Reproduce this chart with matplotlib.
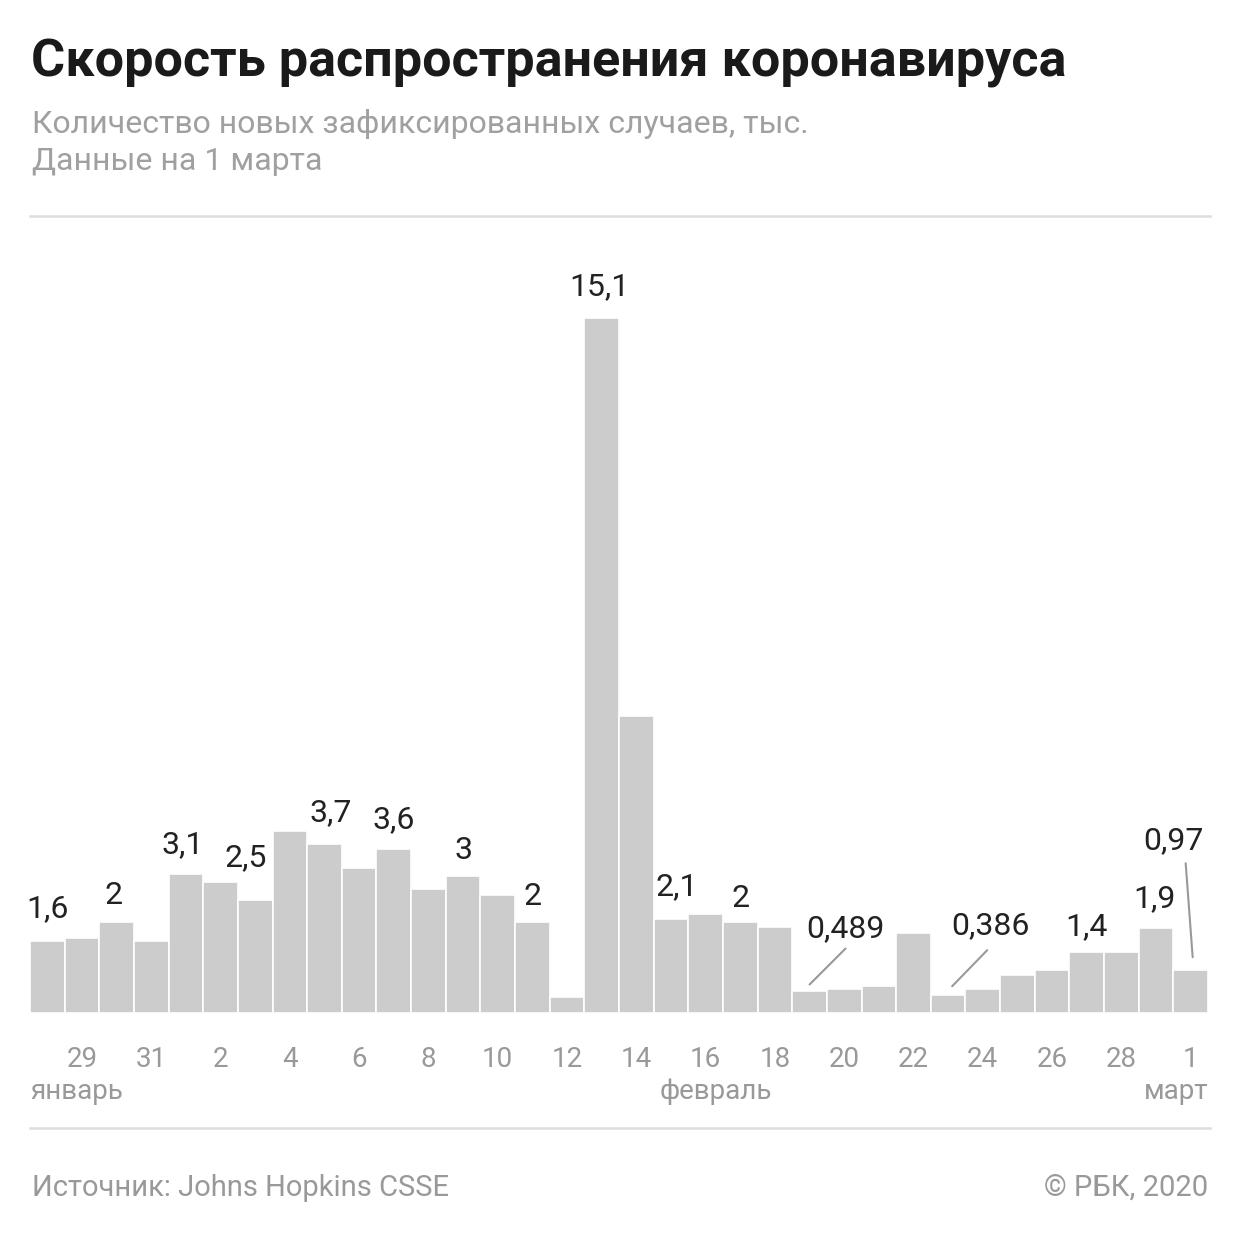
import pandas as pd
import matplotlib
matplotlib.use("Agg")
import matplotlib.pyplot as plt
from matplotlib.transforms import offset_copy

plt.rcParams['font.family'] = ['Roboto', 'DejaVu Sans']

# новые случаи по дням, тыс. (28 января - 1 марта 2020)
days = pd.date_range("2020-01-28", "2020-03-01", freq="D")
new_cases = [1.57, 1.64, 1.98, 1.57, 3.03, 2.85, 2.46, 3.96, 3.67, 3.15,
             3.56, 2.69, 2.98, 2.57, 1.98, 0.35, 15.1, 6.46, 2.04, 2.16,
             1.98, 1.87, 0.489, 0.53, 0.59, 1.75, 0.386, 0.53, 0.82, 0.93,
             1.33, 1.33, 1.85, 0.93]

# подписи значений: индекс столбца -> текст
label_idx = [0, 2, 4, 6, 8, 10, 12, 14, 16, 18, 20, 22, 26, 30, 32, 33]
label_txt = ['1,6', '2', '3,1', '2,5', '3,7', '3,6', '3', '2', '15,1',
             '2,1', '2', '0,489', '0,386', '1,4', '1,9', '0,97']
months = ['январь', 'февраль', 'март']

# смещения подписей в пикселях (dx, dy) от верха столбца
label_off = [(0, 24), (-3, 18), (-3, 20), (-10, 34), (6, 23), (0, 21), (0, 17),
             (0, 17), (-2, 23), (6, 24), (0, 15), (36, 53), (42, 61), (0, 17),
             (-2, 21), (-17, 121)]
# выноски: индекс -> (нижний конец), (верхний конец)
leaders = {22: ((0, 6), (36, 42)), 26: ((4, 9), (39, 45)), 33: ((2, 13), (-5, 107))}

W = H = 1240
fig = plt.figure(figsize=(12.4, 12.4), dpi=100, facecolor='white')
ax = fig.add_axes([30 / W, 227 / H, 1178 / W, 795 / H])
ax.set_xlim(-0.5, len(new_cases) - 0.5)
ax.set_ylim(0, 795 / 46.0)
for s in ax.spines.values():
    s.set_visible(False)
ax.set_yticks([])

x = list(range(len(new_cases)))
ax.bar(x, new_cases, width=1.0, color='#cccccc', edgecolor='white', linewidth=1.2)

# тики: каждый второй день, начиная с 29 января
tick_pos = x[1::2]
ax.set_xticks(tick_pos)
ax.set_xticklabels([str(days[i].day) for i in tick_pos], fontsize=20, color='#999999')
ax.tick_params(axis='x', length=0, pad=24)

trans_m = ax.get_xaxis_transform()
ax.text(-0.5, -0.108, months[0], transform=trans_m, ha='left', va='baseline',
        fontsize=20, color='#999999')
ax.text(19.3, -0.108, months[1], transform=trans_m, ha='center', va='baseline',
        fontsize=20, color='#999999')
ax.text(33.5, -0.108, months[2], transform=trans_m, ha='right', va='baseline',
        fontsize=20, color='#999999')

for i, t, (dx, dy) in zip(label_idx, label_txt, label_off):
    ax.annotate(t, xy=(i, new_cases[i]), xytext=(dx, dy), textcoords='offset pixels',
                ha='center', va='baseline', fontsize=23, color='#222222')

for i, ((x0, y0), (x1, y1)) in leaders.items():
    p0 = offset_copy(ax.transData, fig=fig, x=x0, y=y0, units='dots')
    p1 = offset_copy(ax.transData, fig=fig, x=x1, y=y1, units='dots')
    ax.annotate('', xy=(i, new_cases[i]), xycoords=p0,
                xytext=(i, new_cases[i]), textcoords=p1,
                arrowprops=dict(arrowstyle='-', color='#999999', lw=1.5,
                                shrinkA=0, shrinkB=0))

# заголовки
fig.text(31 / W, 1 - 77 / H, 'Скорость распространения коронавируса',
         fontsize=37.5, fontweight='bold', color='#1a1a1a', va='baseline', ha='left')
fig.text(32 / W, 1 - 133 / H, 'Количество новых зафиксированных случаев, тыс.',
         fontsize=23, color='#a0a0a0', va='baseline', ha='left')
fig.text(32 / W, 1 - 170 / H, 'Данные на 1 марта',
         fontsize=23, color='#a0a0a0', va='baseline', ha='left')

# разделители
for yy in (216, 1128):
    fig.add_artist(plt.Line2D([30 / W, 1210 / W], [1 - yy / H, 1 - yy / H],
                              color='#dddddd', lw=1.8))

fig.text(32 / W, 1 - 1196 / H, 'Источник: Johns Hopkins CSSE',
         fontsize=21, color='#999999', va='baseline', ha='left')
fig.text(1208 / W, 1 - 1196 / H, '© РБК, 2020',
         fontsize=21, color='#999999', va='baseline', ha='right')

fig.savefig('out.png', dpi=100, facecolor='white')
